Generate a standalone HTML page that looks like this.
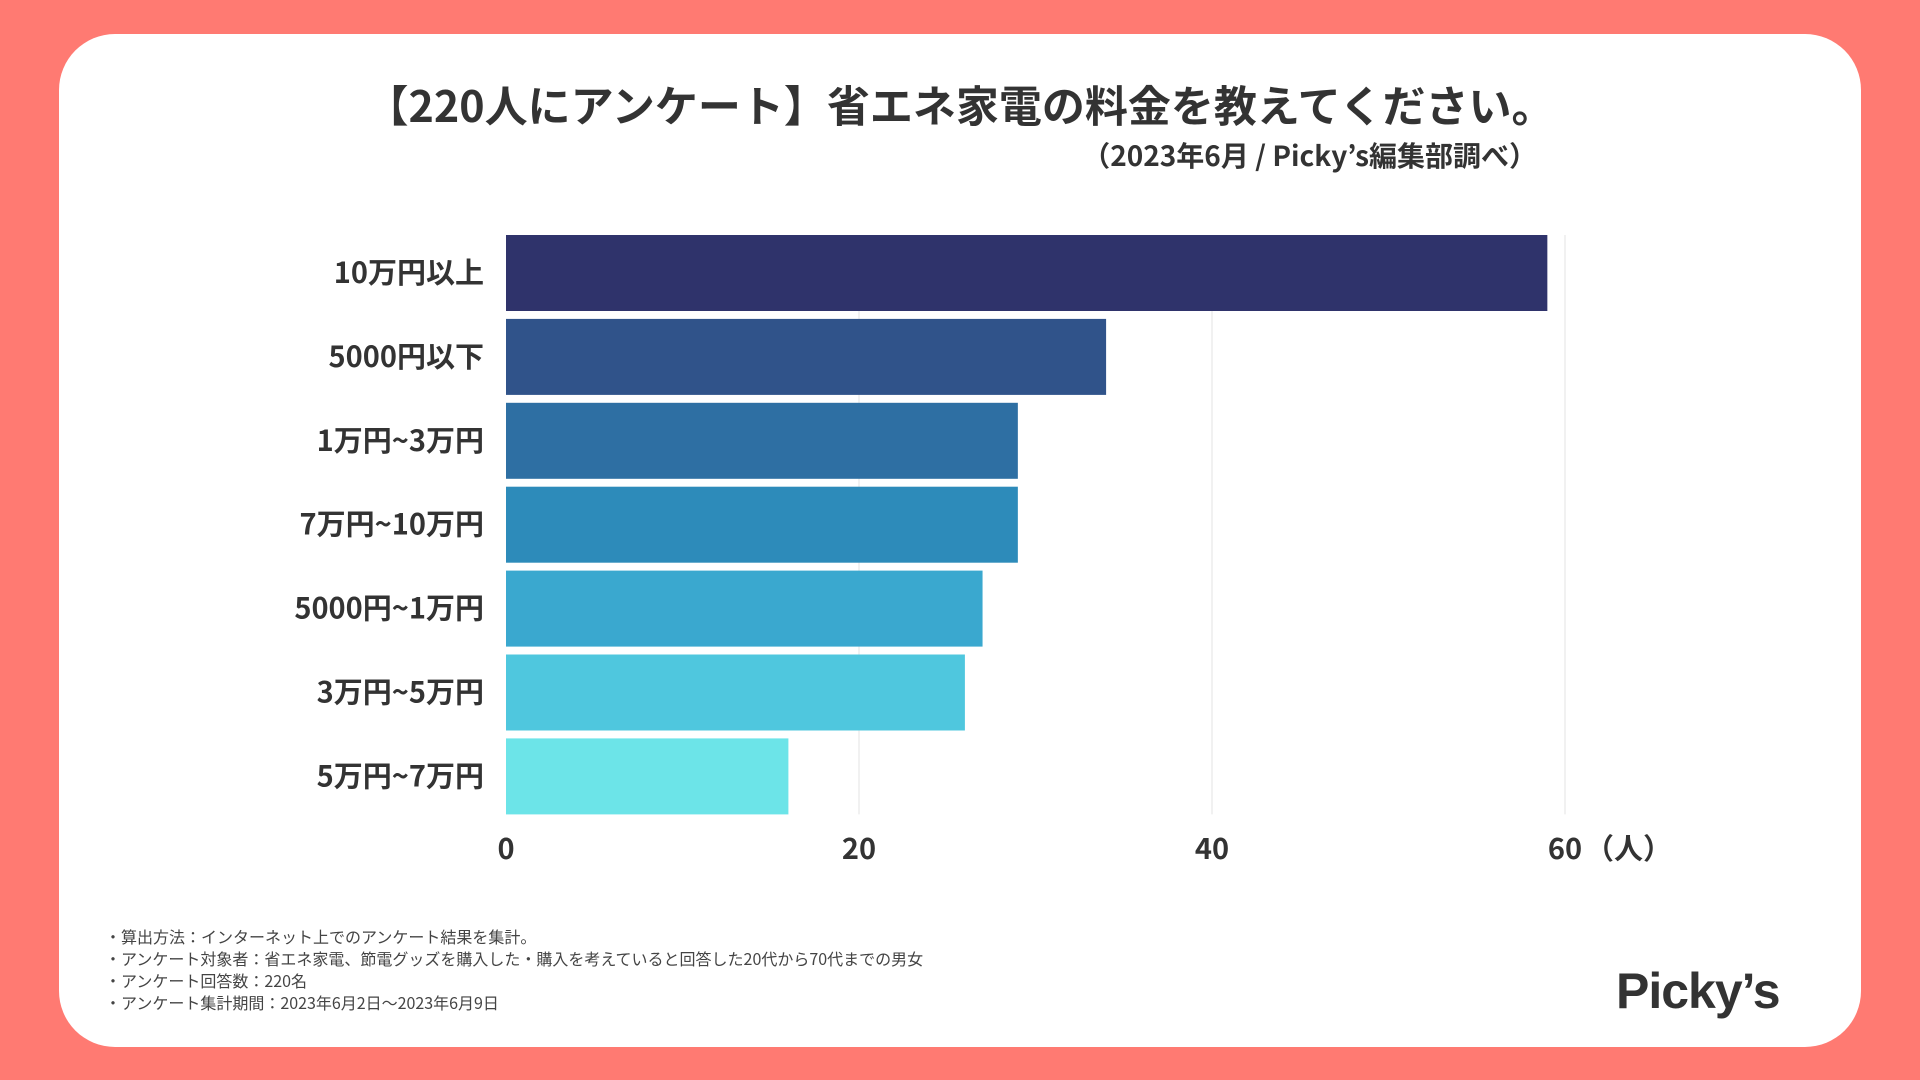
<!DOCTYPE html>
<html><head><meta charset="utf-8"><style>
body{margin:0;width:1920px;height:1080px;background:#ff7a72;font-family:"Noto Sans CJK JP",sans-serif;overflow:hidden}
#card{position:absolute;left:59px;top:34px;width:1802px;height:1013px;background:#fff;border-radius:56px}
.t{position:absolute;white-space:nowrap;color:#333}
</style></head><body>
<div id="card"></div>
<div class="t" style="left:0;width:1920px;text-align:center;top:73px;font-size:43px;font-weight:bold">【220人にアンケート】省エネ家電の料金を教えてください。</div>
<div class="t" style="right:383px;top:135px;font-size:28px;font-weight:bold">（2023年6月 / Picky’s編集部調べ）</div>
<svg id="chart" width="1920" height="1080" style="position:absolute;left:0;top:0"></svg>
<div class="t" style="left:105px;top:925px;font-size:16px;line-height:22px;color:#444">・算出方法：インターネット上でのアンケート結果を集計。<br>・アンケート対象者：省エネ家電、節電グッズを購入した・購入を考えていると回答した20代から70代までの男女<br>・アンケート回答数：220名<br>・アンケート集計期間：2023年6月2日〜2023年6月9日</div>
<div class="t" style="left:1616px;top:962px;font-family:'Liberation Sans',sans-serif;font-size:50px;font-weight:bold;color:#333;letter-spacing:-1px">Picky’s</div>
<script>
const categories=["10万円以上","5000円以下","1万円~3万円","7万円~10万円","5000円~1万円","3万円~5万円","5万円~7万円"];
const values=[59,34,29,29,27,26,16];
const colors=["#2f336b","#30538a","#2e6fa3","#2d8bba","#3aa8cf","#4fc7de","#6ce4e8"];
const ticks=[0,20,40,60];
const NS="http://www.w3.org/2000/svg";
const svg=document.getElementById("chart");
const x0=506,x60=1565,top0=235,pitch=83.9,bh=76;
const xs=v=>x0+(x60-x0)*v/60;
function mk(t,a){const e=document.createElementNS(NS,t);for(const k in a)e.setAttribute(k,a[k]);svg.appendChild(e);return e;}
ticks.forEach(t=>{
 if(t>0){const l=mk("line",{x1:xs(t),x2:xs(t),y1:top0,y2:top0+pitch*6+bh,stroke:"#e3e3e3","stroke-width":1});
 
 }
 const tx=mk("text",{x:xs(t),y:859,"text-anchor":"middle","font-size":29,"font-weight":"bold",fill:"#333"});
 tx.textContent=t;
 
 
});
const unit=mk("text",{x:xs(60)+20,y:859,"font-size":29,"font-weight":"bold",fill:"#333"});
unit.textContent="（人）";


categories.forEach((c,i)=>{
 const y=top0+pitch*i;
 const r=mk("rect",{x:x0,y:y,width:xs(values[i])-x0,height:bh,fill:colors[i]});
 
 
 const t=mk("text",{x:484,y:y+bh/2+10,"text-anchor":"end","font-size":29,"font-weight":"bold",fill:"#333"});
 t.textContent=c;
 
 
});
</script>
</body></html>
